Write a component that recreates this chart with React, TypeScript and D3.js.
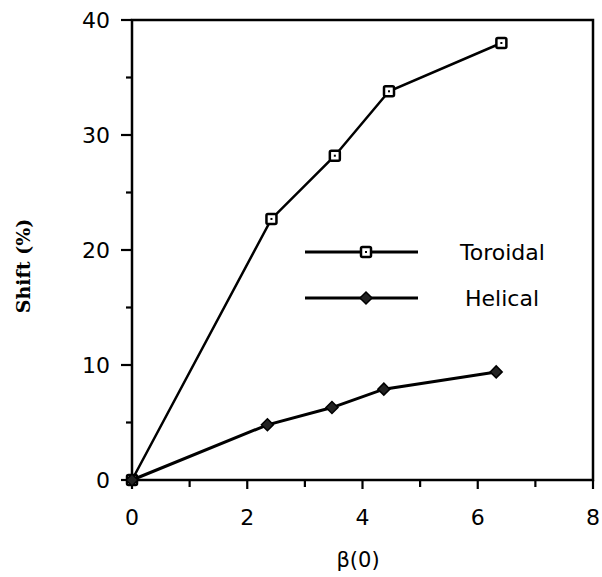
import * as d3 from "d3";
import { useRef, useEffect } from "react";

// beta(0) values and shift (%) for the two configurations
const toroidalBeta = [0, 2.42, 3.52, 4.46, 6.41];
const toroidalShift = [0, 22.7, 28.2, 33.8, 38.0];
const helicalBeta = [0, 2.35, 3.47, 4.37, 6.32];
const helicalShift = [0, 4.8, 6.3, 7.9, 9.4];

const xTicks = [0, 2, 4, 6, 8];
const yTicks = [0, 10, 20, 30, 40];
const seriesNames = ["Toroidal", "Helical"];

export default function App() {
  const svgRef = useRef<SVGSVGElement>(null);

  useEffect(() => {
    const svg = d3.select(svgRef.current);
    svg.selectAll("*").remove();

    const font = "'DejaVu Sans', Verdana, sans-serif";
    const x = d3.scaleLinear().domain([0, 8]).range([132, 593]);
    const y = d3.scaleLinear().domain([0, 40]).range([480, 20]);

    // frame
    svg.append("rect")
      .attr("x", x(0)).attr("y", y(40))
      .attr("width", x(8) - x(0)).attr("height", y(0) - y(40))
      .attr("fill", "none").attr("stroke", "#000").attr("stroke-width", 2.5);

    // x ticks (major + minor)
    const gx = svg.append("g");
    d3.range(0, 8.01, 1).forEach(v => {
      const major = v % 2 === 0;
      gx.append("line")
        .attr("x1", x(v)).attr("x2", x(v))
        .attr("y1", y(0)).attr("y2", y(0) + (major ? 9 : 7))
        .attr("stroke", "#000").attr("stroke-width", 2.2);
    });
    xTicks.forEach(v => {
      gx.append("text")
        .attr("x", x(v)).attr("y", y(0) + 45)
        .attr("text-anchor", "middle")
        .style("font-family", font).style("font-size", "22px")
        .text(v);
    });

    // y ticks
    const gy = svg.append("g");
    d3.range(0, 40.01, 5).forEach(v => {
      const major = v % 10 === 0;
      gy.append("line")
        .attr("x1", x(0) - (major ? 11 : 6)).attr("x2", x(0))
        .attr("y1", y(v)).attr("y2", y(v))
        .attr("stroke", "#000").attr("stroke-width", 2.2);
    });
    yTicks.forEach(v => {
      gy.append("text")
        .attr("x", x(0) - 22).attr("y", y(v))
        .attr("dy", "0.36em")
        .attr("text-anchor", "end")
        .style("font-family", font).style("font-size", "22px")
        .text(v);
    });

    // axis titles
    svg.append("text")
      .attr("x", 358).attr("y", 567)
      .attr("text-anchor", "middle")
      .style("font-family", font).style("font-size", "21px")
      .text("β(0)");
    svg.append("text")
      .attr("transform", "translate(30,266) rotate(-90)")
      .attr("text-anchor", "middle")
      .style("font-family", "'DejaVu Serif', serif").style("font-size", "19px")
      .style("font-weight", "bold")
      .text("Shift (%)");

    const line = d3.line<[number, number]>().x(d => x(d[0])).y(d => y(d[1]));
    const toroidal: [number, number][] = toroidalBeta.map((b, i) => [b, toroidalShift[i]]);
    const helical: [number, number][] = helicalBeta.map((b, i) => [b, helicalShift[i]]);

    const square = (g: any, cx: number, cy: number) => {
      g.append("rect")
        .attr("x", cx - 5).attr("y", cy - 5).attr("width", 10).attr("height", 10)
        .attr("rx", 1.5)
        .attr("fill", "#fff").attr("stroke", "#000").attr("stroke-width", 2.5);
      g.append("rect")
        .attr("x", cx - 1).attr("y", cy - 1).attr("width", 2).attr("height", 2)
        .attr("fill", "#000");
    };
    const diamond = (g: any, cx: number, cy: number) => {
      g.append("path")
        .attr("d", `M${cx},${cy - 6}L${cx + 6},${cy}L${cx},${cy + 6}L${cx - 6},${cy}Z`)
        .attr("fill", "#222").attr("stroke", "#000").attr("stroke-width", 1.5);
    };

    // toroidal series
    svg.append("path").datum(toroidal)
      .attr("d", line).attr("fill", "none")
      .attr("stroke", "#000").attr("stroke-width", 2.5);
    toroidal.forEach(d => square(svg, x(d[0]), y(d[1])));

    // helical series
    svg.append("path").datum(helical)
      .attr("d", line).attr("fill", "none")
      .attr("stroke", "#000").attr("stroke-width", 3);
    helical.forEach(d => diamond(svg, x(d[0]), y(d[1])));

    // legend
    const legend = svg.append("g");
    seriesNames.forEach((name, i) => {
      const ly = 252 + i * 46;
      legend.append("line")
        .attr("x1", 305).attr("x2", 418).attr("y1", ly).attr("y2", ly)
        .attr("stroke", "#000").attr("stroke-width", 3);
      if (i === 0) square(legend, 366, ly);
      else diamond(legend, 366, ly);
      legend.append("text")
        .attr("x", i === 0 ? 460 : 465).attr("y", ly)
        .attr("dy", "0.36em")
        .style("font-family", font).style("font-size", "22px")
        .text(name);
    });
  }, []);

  return (
    <svg
      ref={svgRef}
      width={602}
      height={577}
      style={{ position: "absolute", left: 0, top: 0, background: "#fff" }}
    />
  );
}
